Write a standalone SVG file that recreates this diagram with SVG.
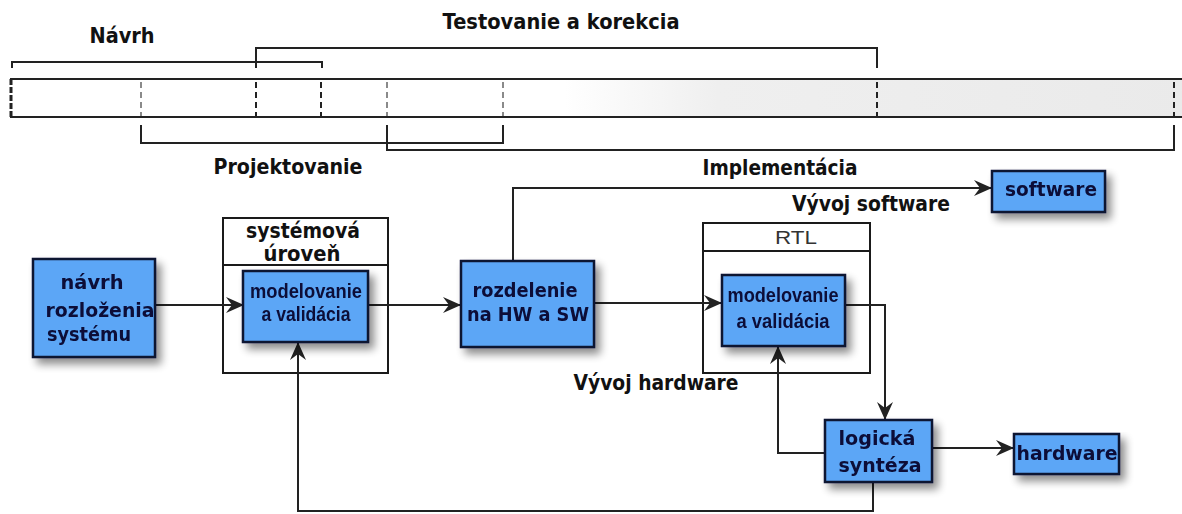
<svg xmlns="http://www.w3.org/2000/svg" width="1182" height="514" viewBox="0 0 1182 514">
  <style>
    .lbl { font-family: "DejaVu Sans", "Liberation Sans", sans-serif; font-weight: bold; font-size: 20.5px; fill: #111; text-anchor: middle; }
    .bt { font-family: "DejaVu Sans", "Liberation Sans", sans-serif; font-weight: bold; font-size: 20px; fill: #0b0f38; text-anchor: middle; }
    .bn { font-family: "Liberation Sans", Arial, sans-serif; font-weight: bold; font-size: 19.5px; fill: #0b0f38; text-anchor: middle; }
    .box { fill: #5ba6f6; stroke: #101430; stroke-width: 2.5; }
    .frame { fill: #fff; stroke: #1a1a1a; stroke-width: 2; }
    .br { fill: none; stroke: #222; stroke-width: 2; }
    .dk { stroke: #222; stroke-width: 2; stroke-dasharray: 6 4; }
    .lt { stroke: #8a8a8a; stroke-width: 2; stroke-dasharray: 6 4; }
    .wire { fill: none; stroke: #222; stroke-width: 2; }
  </style>
  <defs>
    <filter id="shadow" x="-20%" y="-20%" width="150%" height="160%">
      <feGaussianBlur in="SourceAlpha" stdDeviation="4"/>
      <feOffset dx="5" dy="6" result="b"/>
      <feComponentTransfer><feFuncA type="linear" slope="0.45"/></feComponentTransfer>
      <feMerge><feMergeNode/><feMergeNode in="SourceGraphic"/></feMerge>
    </filter>
    <linearGradient id="barFill" x1="0" y1="0" x2="1" y2="0">
      <stop offset="0" stop-color="#ffffff"/>
      <stop offset="0.47" stop-color="#ffffff"/>
      <stop offset="0.6" stop-color="#efefef"/>
      <stop offset="1" stop-color="#eaeaea"/>
    </linearGradient>
    <marker id="arr" viewBox="0 0 18 16" refX="17" refY="8" markerWidth="18" markerHeight="16" markerUnits="userSpaceOnUse" orient="auto">
      <path d="M0,0 L18,8 L0,16 L6,8 z" fill="#222"/>
    </marker>
  </defs>

  <!-- timeline bar with phase brackets -->
  <g id="timeline">
    <rect x="10" y="79" width="1180" height="38" fill="url(#barFill)"/>
    <line x1="10" y1="79" x2="1182" y2="79" stroke="#222" stroke-width="2"/>
    <line x1="10" y1="117" x2="1182" y2="117" stroke="#222" stroke-width="2"/>
    <line x1="11" y1="79" x2="11" y2="117" stroke="#222" stroke-width="3" stroke-dasharray="6 2"/>
    <line x1="141" y1="82" x2="141" y2="116" class="lt"/>
    <line x1="256" y1="82" x2="256" y2="116" class="dk"/>
    <line x1="321" y1="82" x2="321" y2="116" class="dk" stroke-width="3"/>
    <line x1="387" y1="82" x2="387" y2="116" class="lt"/>
    <line x1="503" y1="82" x2="503" y2="116" class="lt"/>
    <line x1="877" y1="82" x2="877" y2="116" class="dk"/>
    <line x1="1174" y1="82" x2="1174" y2="116" class="dk" stroke-width="2.5"/>
    <!-- brackets -->
    <path class="br" d="M12,68 V62 H322 V68"/>
    <path class="br" d="M256,68 V48 H877 V68"/>
    <path class="br" d="M141,125 V143 H503 V125"/>
    <path class="br" d="M387,125 V150 H1174 V125"/>
    <text class="lbl" x="122" y="43" textLength="65" lengthAdjust="spacingAndGlyphs">Návrh</text>
    <text class="lbl" x="561" y="29" textLength="237" lengthAdjust="spacingAndGlyphs">Testovanie a korekcia</text>
    <text class="lbl" x="288" y="174" textLength="149" lengthAdjust="spacingAndGlyphs">Projektovanie</text>
    <text class="lbl" x="780" y="175" textLength="155" lengthAdjust="spacingAndGlyphs">Implementácia</text>
    <text class="lbl" x="871" y="211" textLength="158" lengthAdjust="spacingAndGlyphs">Vývoj software</text>
    <text class="lbl" x="656" y="390" textLength="165" lengthAdjust="spacingAndGlyphs">Vývoj hardware</text>
  </g>

  <!-- container frames -->
  <g id="system-level">
    <rect class="frame" x="223" y="218" width="165" height="155"/>
    <line x1="223" y1="265" x2="388" y2="265" stroke="#1a1a1a" stroke-width="2"/>
    <text class="lbl" x="303" y="238" font-size="17.5" textLength="114" lengthAdjust="spacingAndGlyphs">systémová</text>
    <text class="lbl" x="302" y="261" font-size="17.5" textLength="77" lengthAdjust="spacingAndGlyphs">úroveň</text>
  </g>
  <g id="rtl">
    <rect class="frame" x="703" y="223" width="167" height="150"/>
    <line x1="703" y1="251" x2="870" y2="251" stroke="#1a1a1a" stroke-width="2"/>
    <text x="796" y="244" font-family="Liberation Sans, Arial, sans-serif" font-size="19" fill="#333" text-anchor="middle" textLength="42" lengthAdjust="spacingAndGlyphs">RTL</text>
  </g>

  <!-- connectors -->
  <g id="connectors">
    <line class="wire" x1="155" y1="305" x2="243" y2="305" marker-end="url(#arr)"/>
    <line class="wire" x1="368" y1="305" x2="460" y2="305" marker-end="url(#arr)"/>
    <line class="wire" x1="594" y1="303" x2="721" y2="303" marker-end="url(#arr)"/>
    <polyline class="wire" points="513,261 513,188 991,188" marker-end="url(#arr)"/>
    <polyline class="wire" points="845,305 885,305 885,419" marker-end="url(#arr)"/>
    <polyline class="wire" points="825,453 778,453 778,347" marker-end="url(#arr)"/>
    <line class="wire" x1="932" y1="448" x2="1013" y2="448" marker-end="url(#arr)"/>
    <polyline class="wire" points="873,482 873,511 298,511 298,343" marker-end="url(#arr)"/>
  </g>

  <!-- process nodes -->
  <g id="navrh-rozlozenia" filter="url(#shadow)">
    <rect class="box" x="33" y="259" width="122" height="98"/>
    <text class="bt" x="92" y="289" textLength="63" lengthAdjust="spacingAndGlyphs">návrh</text>
    <text class="bt" x="100" y="317" textLength="109" lengthAdjust="spacingAndGlyphs">rozloženia</text>
    <text class="bt" x="89" y="341" textLength="84" lengthAdjust="spacingAndGlyphs">systému</text>
  </g>
  <g id="sys-modelovanie" filter="url(#shadow)">
    <rect class="box" x="243" y="271" width="125" height="71"/>
    <text class="bn" x="306" y="298" textLength="112" lengthAdjust="spacingAndGlyphs">modelovanie</text>
    <text class="bn" x="306" y="321" textLength="89" lengthAdjust="spacingAndGlyphs">a validácia</text>
  </g>
  <g id="rozdelenie" filter="url(#shadow)">
    <rect class="box" x="461" y="261" width="133" height="86"/>
    <text class="bt" x="525" y="297" textLength="105" lengthAdjust="spacingAndGlyphs">rozdelenie</text>
    <text class="bt" x="528" y="321" textLength="122" lengthAdjust="spacingAndGlyphs">na HW a SW</text>
  </g>
  <g id="rtl-modelovanie" filter="url(#shadow)">
    <rect class="box" x="722" y="275" width="123" height="71"/>
    <text class="bn" x="783" y="302" textLength="111" lengthAdjust="spacingAndGlyphs">modelovanie</text>
    <text class="bn" x="783" y="328" textLength="93" lengthAdjust="spacingAndGlyphs">a validácia</text>
  </g>
  <g id="software" filter="url(#shadow)">
    <rect class="box" x="992" y="171" width="113" height="41"/>
    <text class="bt" x="1051" y="196" textLength="92" lengthAdjust="spacingAndGlyphs">software</text>
  </g>
  <g id="logicka-synteza" filter="url(#shadow)">
    <rect class="box" x="825" y="420" width="107" height="62"/>
    <text class="bt" x="877" y="445" textLength="77" lengthAdjust="spacingAndGlyphs">logická</text>
    <text class="bt" x="880" y="472" textLength="83" lengthAdjust="spacingAndGlyphs">syntéza</text>
  </g>
  <g id="hardware" filter="url(#shadow)">
    <rect class="box" x="1014" y="434" width="105" height="40"/>
    <text class="bt" x="1067" y="460" textLength="101" lengthAdjust="spacingAndGlyphs">hardware</text>
  </g>
</svg>
